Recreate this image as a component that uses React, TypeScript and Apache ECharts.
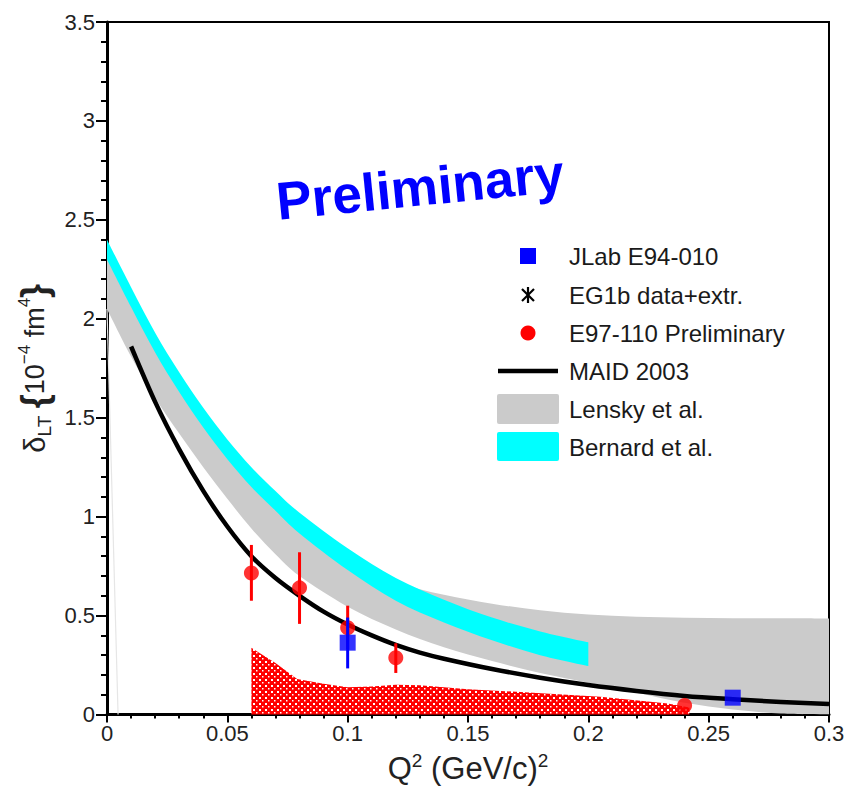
import React, { useEffect, useRef } from "react";
import * as echarts from "echarts";

// ---------- axis ranges / ticks ----------
const X_MIN = 0;
const X_MAX = 0.3;
const X_STEP = 0.05;
const Y_MIN = 0;
const Y_MAX = 3.5;
const Y_STEP = 0.5;

// ---------- data: JLab E94-010 ----------
const jlabX = [0.1, 0.26];
const jlabY = [0.363, 0.085];
const jlabLo = [0.233, 0.085];
const jlabHi = [0.49, 0.085];

// ---------- data: E97-110 Preliminary ----------
const e97X = [0.06, 0.08, 0.1, 0.12, 0.24];
const e97Y = [0.715, 0.64, 0.438, 0.287, 0.045];
const e97Lo = [0.575, 0.458, 0.33, 0.21, 0.045];
const e97Hi = [0.857, 0.82, 0.55, 0.36, 0.045];

// ---------- E97-110 systematic band ----------
const sysX = [0.06, 0.06, 0.07, 0.079, 0.09, 0.1, 0.11, 0.12, 0.13, 0.15, 0.177, 0.205, 0.233, 0.242, 0.242];
const sysY = [0, 0.337, 0.26, 0.18, 0.155, 0.138, 0.142, 0.15, 0.148, 0.128, 0.11, 0.09, 0.055, 0.035, 0];

// ---------- MAID 2003 ----------
const maidX = [0.01, 0.02, 0.03, 0.04, 0.05, 0.06, 0.07, 0.08, 0.09, 0.1, 0.11, 0.12, 0.13, 0.14, 0.16, 0.18, 0.2, 0.22, 0.24, 0.26, 0.28, 0.3];
const maidY = [1.86, 1.58, 1.34, 1.13, 0.95, 0.8, 0.69, 0.6, 0.52, 0.455, 0.4, 0.352, 0.313, 0.282, 0.23, 0.186, 0.149, 0.119, 0.094, 0.077, 0.063, 0.053];

// ---------- Lensky et al. band ----------
const lenskyX = [0, 0.01, 0.02, 0.03, 0.04, 0.05, 0.06, 0.07, 0.08, 0.1, 0.12, 0.14, 0.16, 0.18, 0.2, 0.22, 0.24, 0.26, 0.28, 0.3];
const lenskyHi = [2.33, 2.09, 1.86, 1.66, 1.48, 1.32, 1.18, 1.06, 0.95, 0.78, 0.67, 0.605, 0.56, 0.527, 0.505, 0.494, 0.489, 0.487, 0.486, 0.485];
const lenskyLo = [2.05, 1.81, 1.6, 1.42, 1.25, 1.09, 0.94, 0.81, 0.7, 0.545, 0.43, 0.34, 0.27, 0.21, 0.16, 0.11, 0.06, 0.025, 0.005, 0.0];

// ---------- Bernard et al. band ----------
const bernardX = [0, 0.01, 0.02, 0.03, 0.04, 0.05, 0.06, 0.07, 0.08, 0.1, 0.12, 0.14, 0.16, 0.18, 0.2];
const bernardHi = [2.4, 2.16, 1.93, 1.73, 1.55, 1.39, 1.25, 1.13, 1.02, 0.84, 0.69, 0.58, 0.49, 0.42, 0.365];
const bernardLo = [2.3, 2.06, 1.83, 1.63, 1.45, 1.29, 1.15, 1.03, 0.915, 0.73, 0.575, 0.465, 0.375, 0.3, 0.245];

// ---------- faint edge line near the y axis ----------
const edgeX = [0, 0.0046];
const edgeY = [2.05, 0];

// ---------- legend ----------
const legendNames = [
  "JLab E94-010",
  "EG1b data+extr.",
  "E97-110 Preliminary",
  "MAID 2003",
  "Lensky et al.",
  "Bernard et al.",
];

const FONT = "'Liberation Sans', Arial, Helvetica, sans-serif";

function makePattern(): HTMLCanvasElement {
  const c = document.createElement("canvas");
  c.width = 6;
  c.height = 6;
  const ctx = c.getContext("2d")!;
  ctx.fillStyle = "#ff0000";
  ctx.fillRect(0, 0, 6, 6);
  ctx.fillStyle = "#ffffff";
  ctx.fillRect(1, 1, 2, 2);
  ctx.fillRect(4, 4, 1.5, 1.5);
  return c;
}

// Catmull-Rom rendering of a curve through given pixel points (cubic bezier commands)
function splineSegments(pts: number[][]): string {
  let d = "";
  for (let i = 0; i < pts.length - 1; i++) {
    const p0 = pts[i - 1] || pts[i];
    const p1 = pts[i];
    const p2 = pts[i + 1];
    const p3 = pts[i + 2] || pts[i + 1];
    const c1x = p1[0] + (p2[0] - p0[0]) / 6;
    const c1y = p1[1] + (p2[1] - p0[1]) / 6;
    const c2x = p2[0] - (p3[0] - p1[0]) / 6;
    const c2y = p2[1] - (p3[1] - p1[1]) / 6;
    d += ` C${c1x},${c1y} ${c2x},${c2y} ${p2[0]},${p2[1]}`;
  }
  return d;
}

function bandSeries(name: string, xs: number[], lo: number[], hi: number[], fill: string, z: number) {
  return {
    type: "custom",
    name,
    z,
    silent: true,
    clip: true,
    data: xs.map((x, i) => [x, lo[i], hi[i]]),
    encode: { x: 0, y: [1, 2] },
    renderItem: (params: any, api: any) => {
      if (params.dataIndex !== 0) return null;
      const top = xs.map((x, i) => api.coord([x, hi[i]]));
      const bot = xs.map((x, i) => api.coord([x, lo[i]])).reverse();
      const d =
        `M${top[0][0]},${top[0][1]}` +
        splineSegments(top) +
        ` L${bot[0][0]},${bot[0][1]}` +
        splineSegments(bot) +
        " Z";
      return {
        type: "path",
        shape: { pathData: d },
        style: { fill, stroke: null },
      };
    },
  };
}

function curveSeries(name: string, xs: number[], ys: number[], color: string, width: number, z: number) {
  return {
    type: "custom",
    name,
    z,
    silent: true,
    clip: true,
    data: xs.map((x, i) => [x, ys[i]]),
    encode: { x: 0, y: 1 },
    renderItem: (params: any, api: any) => {
      if (params.dataIndex !== 0) return null;
      const pts = xs.map((x, i) => api.coord([x, ys[i]]));
      const d = `M${pts[0][0]},${pts[0][1]}` + splineSegments(pts);
      return {
        type: "path",
        shape: { pathData: d },
        style: { fill: null, stroke: color, lineWidth: width, lineCap: "butt", lineJoin: "round" },
      };
    },
  };
}

function errorSeries(xs: number[], lo: number[], hi: number[], color: string, z: number) {
  return {
    type: "custom",
    z,
    silent: true,
    data: xs.map((x, i) => [x, lo[i], hi[i]]),
    encode: { x: 0, y: [1, 2] },
    renderItem: (params: any, api: any) => {
      const p1 = api.coord([api.value(0), api.value(1)]);
      const p2 = api.coord([api.value(0), api.value(2)]);
      return {
        type: "line",
        shape: { x1: p1[0], y1: p1[1], x2: p2[0], y2: p2[1] },
        style: { stroke: color, lineWidth: 3 },
      };
    },
  };
}

export default function App() {
  const ref = useRef<HTMLDivElement>(null);

  useEffect(() => {
    if (!ref.current) return;
    const chart = echarts.init(ref.current, null, { renderer: "svg" });
    const pattern = makePattern();

    const legendX = 569;
    const rowY = [256, 295, 333, 371, 409, 447];
    const legendGraphics: any[] = [
      { type: "rect", shape: { x: 520, y: rowY[0] - 8, width: 16, height: 16 }, style: { fill: "#0000ff" } },
      { type: "line", shape: { x1: 528, y1: rowY[1] - 8, x2: 528, y2: rowY[1] + 8 }, style: { stroke: "#000", lineWidth: 2.2 } },
      { type: "line", shape: { x1: 522, y1: rowY[1] - 6, x2: 534, y2: rowY[1] + 6 }, style: { stroke: "#000", lineWidth: 2.2 } },
      { type: "line", shape: { x1: 522, y1: rowY[1] + 6, x2: 534, y2: rowY[1] - 6 }, style: { stroke: "#000", lineWidth: 2.2 } },
      { type: "circle", shape: { cx: 528, cy: rowY[2], r: 7.5 }, style: { fill: "#ff0000" } },
      { type: "line", shape: { x1: 498, y1: rowY[3], x2: 558, y2: rowY[3] }, style: { stroke: "#000", lineWidth: 4.5 } },
      { type: "rect", shape: { x: 497, y: rowY[4] - 15, width: 62, height: 30, r: 2 }, style: { fill: "#cbcbcb" } },
      { type: "rect", shape: { x: 497, y: rowY[5] - 15, width: 62, height: 29, r: 2 }, style: { fill: "#00ffff" } },
      ...legendNames.map((t, i) => ({
        type: "text",
        x: legendX,
        y: rowY[i],
        style: {
          text: t,
          fill: "#1a1a1a",
          font: `24px ${FONT}`,
          textAlign: "left",
          textVerticalAlign: "middle",
          verticalAlign: "middle",
        },
      })),
    ];

    const option: any = {
      animation: false,
      backgroundColor: "#ffffff",
      grid: {
        left: 107,
        top: 22,
        right: 19,
        bottom: 72,
        show: true,
        borderColor: "#000",
        borderWidth: 2,
        backgroundColor: "transparent",
      },
      xAxis: {
        type: "value",
        min: X_MIN,
        max: X_MAX,
        interval: X_STEP,
        name: "{q|Q}{s|2}{q| (GeV/c)}{s|2}",
        nameLocation: "middle",
        nameGap: 36,
        nameTextStyle: {
          color: "#222",
          fontFamily: FONT,
          fontSize: 31,
          rich: {
            q: { fontSize: 31, fontFamily: FONT, color: "#222", lineHeight: 36 },
            s: { fontSize: 19, fontFamily: FONT, color: "#222", verticalAlign: "top", lineHeight: 36 },
          },
        },
        axisLine: { show: true, onZero: false, lineStyle: { color: "#000", width: 3 } },
        axisTick: { show: true, inside: false, length: 8, lineStyle: { color: "#000", width: 2 } },
        minorTick: { show: true, splitNumber: 5, length: 4, lineStyle: { color: "#000", width: 2 } },
        splitLine: { show: false },
        minorSplitLine: { show: false },
        axisLabel: {
          color: "#222",
          fontFamily: FONT,
          fontSize: 22,
          margin: 8,
          formatter: (v: number) => String(parseFloat(v.toFixed(2))),
        },
      },
      yAxis: {
        type: "value",
        min: Y_MIN,
        max: Y_MAX,
        interval: Y_STEP,
        name: "{d|δ}{sub|LT}{n| }{br|{}{n|10}{sup|−4}{n| fm}{sup|4}}",
        nameLocation: "middle",
        nameRotate: 90,
        nameGap: 48,
        nameTextStyle: {
          color: "#222",
          fontFamily: FONT,
          fontSize: 36,
          fontWeight: "bold",
          lineHeight: 38,
          rich: {
            d: { fontSize: 29, fontFamily: FONT, fontWeight: "normal", color: "#222", lineHeight: 38 },
            sub: { fontSize: 19, fontFamily: FONT, fontWeight: "normal", color: "#222", verticalAlign: "bottom", lineHeight: 38 },
            n: { fontSize: 27, fontFamily: FONT, fontWeight: "normal", color: "#222", lineHeight: 38 },
            sup: { fontSize: 17, fontFamily: FONT, fontWeight: "normal", color: "#222", verticalAlign: "top", lineHeight: 38 },
            br: { fontSize: 36, fontFamily: FONT, fontWeight: "bold", color: "#222", lineHeight: 38 },
          },
        },
        axisLine: { show: true, onZero: false, lineStyle: { color: "#000", width: 3 } },
        axisTick: { show: true, inside: false, length: 11, lineStyle: { color: "#000", width: 2 } },
        minorTick: { show: true, splitNumber: 5, length: 6, lineStyle: { color: "#000", width: 2 } },
        splitLine: { show: false },
        minorSplitLine: { show: false },
        axisLabel: {
          color: "#222",
          fontFamily: FONT,
          fontSize: 22,
          margin: 12,
          formatter: (v: number) => String(parseFloat(v.toFixed(2))),
        },
      },
      series: [
        bandSeries("Lensky et al.", lenskyX, lenskyLo, lenskyHi, "#cbcbcb", 1),
        bandSeries("Bernard et al.", bernardX, bernardLo, bernardHi, "#00ffff", 2),
        {
          type: "custom",
          name: "E97-110 systematic",
          z: 3,
          silent: true,
          data: sysX.map((x, i) => [x, sysY[i]]),
          encode: { x: 0, y: 1 },
          renderItem: (params: any, api: any) => {
            if (params.dataIndex !== 0) return null;
            const pts = sysX.map((x, i) => api.coord([x, sysY[i]]));
            return {
              type: "polygon",
              shape: { points: pts },
              style: { fill: { image: pattern, repeat: "repeat" }, stroke: null },
            };
          },
        },
        {
          type: "line",
          name: "edge",
          z: 3,
          silent: true,
          symbol: "none",
          data: edgeX.map((x, i) => [x, edgeY[i]]),
          lineStyle: { color: "#e6e6e6", width: 1.2 },
        },
        curveSeries("MAID 2003", maidX, maidY, "#000", 4.5, 4),
        errorSeries(e97X, e97Lo, e97Hi, "#ff0000", 5),
        {
          type: "scatter",
          name: "E97-110 Preliminary",
          z: 6,
          silent: true,
          symbol: "circle",
          symbolSize: 15,
          data: e97X.map((x, i) => [x, e97Y[i]]),
          itemStyle: { color: "#ff0000" },
        },
        errorSeries(jlabX, jlabLo, jlabHi, "#0000ff", 7),
        {
          type: "scatter",
          name: "JLab E94-010",
          z: 8,
          silent: true,
          symbol: "rect",
          symbolSize: 16,
          data: jlabX.map((x, i) => [x, jlabY[i]]),
          itemStyle: { color: "#0000ff" },
        },
      ],
      graphic: [
        {
          type: "text",
          x: 420,
          y: 187,
          rotation: 0.1,
          style: {
            text: "Preliminary",
            fill: "#0000ff",
            font: `bold 53px ${FONT}`,
            textAlign: "center",
            textVerticalAlign: "middle",
            align: "center",
            verticalAlign: "middle",
          },
        },
        ...legendGraphics,
      ],
    };

    chart.setOption(option);
    return () => {
      chart.dispose();
    };
  }, []);

  return (
    <div
      ref={ref}
      style={{ position: "fixed", left: 0, top: 0, width: 848, height: 789, background: "#fff" }}
    />
  );
}
